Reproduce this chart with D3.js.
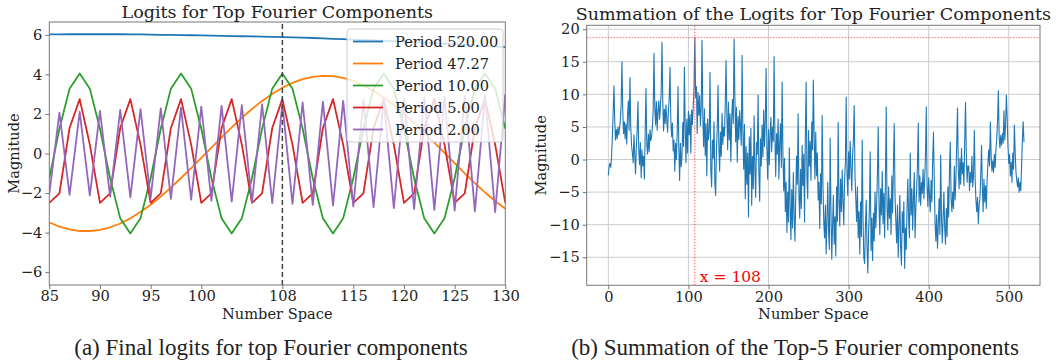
<!DOCTYPE html>
<html>
<head>
<meta charset="utf-8">
<script src="https://cdn.jsdelivr.net/npm/d3@7"></script>
<style>
body { margin: 0; background: #fff; }
text { font-family: "DejaVu Serif", serif; fill: #222; }
text.caption { font-family: "Liberation Serif", "Times New Roman", Times, "Nimbus Roman", serif; }
.domain { stroke: #777; }
.tick line { stroke: #777; }
</style>
</head>
<body>
<script>
var width = 1058,
	height = 362;

// ---- panel (a) data, one value per integer x from 85 to 130 ----
var numberSpace = d3.range(85, 131);
var leftTicks = [85, 90, 95, 100, 108, 115, 120, 125, 130];
var legendNames = ["Period 520.00", "Period 47.27", "Period 10.00", "Period 5.00", "Period 2.00"];
var colors = ["#1f77b4", "#ff7f0e", "#2ca02c", "#d62728", "#9467bd"];

var period520 = [6.02,6.02,6.03,6.03,6.03,6.03,6.03,6.03,6.02,6.02,6.01,6.00,6.00,5.99,5.98,5.97,5.96,5.95,5.94,5.93,
	5.92,5.91,5.90,5.89,5.87,5.86,5.84,5.82,5.80,5.78,5.76,5.74,5.72,5.70,5.68,5.66,5.63,5.61,5.58,5.56,
	5.53,5.50,5.47,5.44,5.41,5.38];
var period47 = [-3.49,-3.70,-3.84,-3.92,-3.92,-3.86,-3.73,-3.54,-3.28,-2.96,-2.59,-2.18,-1.72,-1.24,-0.74,-0.22,0.30,0.82,1.32,1.80,
	2.25,2.66,3.01,3.33,3.57,3.76,3.88,3.93,3.91,3.82,3.67,3.45,3.17,2.83,2.45,2.02,1.55,1.06,0.55,0.03,
	-0.49,-1.00,-1.50,-1.97,-2.40,-2.79];
var period10 = [-1.25,1.25,3.28,4.05,3.28,1.25,-1.25,-3.28,-4.05,-3.28,
	-1.25,1.25,3.28,4.05,3.28,1.25,-1.25,-3.28,-4.05,-3.28,
	-1.25,1.25,3.28,4.05,3.28,1.25,-1.25,-3.28,-4.05,-3.28,
	-1.25,1.25,3.28,4.05,3.28,1.25,-1.25,-3.28,-4.05,-3.28,
	-1.25,1.25,3.28,4.05,3.28,1.25];
var period5 = [-2.50,-2.02,1.29,2.75,0.45,-2.50,-2.02,1.29,2.75,0.45,-2.50,-2.02,1.29,2.75,0.45,
	-2.50,-2.02,1.29,2.75,0.45,-2.50,-2.02,1.29,2.75,0.45,-2.50,-2.02,1.29,2.75,0.45,
	-2.50,-2.02,1.29,2.75,0.45,-2.50,-2.02,1.29,2.75,0.45,-2.50,-2.02,1.29,2.75,0.45,-2.50];
var period2 = [-2.05,2.07,-2.09,2.11,-2.13,2.16,-2.18,2.20,-2.22,2.24,-2.26,2.28,-2.30,2.32,-2.34,2.37,
	-2.39,2.41,-2.43,2.45,-2.47,2.49,-2.51,2.53,-2.55,2.58,-2.60,2.62,-2.64,2.66,-2.68,2.70,
	-2.72,2.74,-2.76,2.79,-2.81,2.83,-2.85,2.87,-2.89,2.91,-2.93,2.95,-2.97,3.00];

// ---- panel (b) data, one value per number 0..519 ----
var summation = [
	-2.4,-1.0,-0.6,-1.2,0.2,3.5,7.0,11.3,6.0,3.0,
	4.6,3.2,5.0,3.8,4.9,6.0,8.5,15.0,7.5,4.0,
	5.8,3.2,5.5,2.4,6.8,9.0,4.5,12.6,5.0,2.2,
	1.0,-0.5,3.8,0.6,-2.2,2.0,4.5,8.9,1.5,-0.8,
	2.6,-2.8,1.5,-1.0,0.5,-3.0,4.0,10.9,2.3,0.8,
	3.9,1.2,4.6,2.9,3.5,5.0,7.4,16.3,8.1,5.3,
	8.9,4.5,7.3,9.0,6.2,8.0,10.2,18.0,9.0,4.4,
	7.7,5.5,8.4,6.1,4.2,7.6,9.3,14.1,6.3,3.5,
	5.6,1.3,3.0,-1.8,2.5,0.0,4.2,11.2,1.8,-3.2,
	2.5,-1.1,0.6,5.7,2.0,14.2,4.6,-0.5,6.2,1.0,
	7.4,3.8,6.9,1.0,7.6,5.4,8.2,11.0,18.7,9.5,
	11.2,4.0,10.3,6.8,9.8,5.2,8.0,18.3,6.5,2.0,
	7.8,0.6,5.5,-2.5,6.2,3.0,4.4,13.4,-1.6,-4.2,
	3.0,0.2,5.8,-3.5,-5.5,1.4,4.8,11.4,2.0,-1.8,
	4.2,0.5,7.1,2.3,5.0,3.6,8.4,15.2,6.9,1.5,
	8.8,3.0,7.0,-0.3,6.1,9.2,5.5,18.5,10.0,2.7,
	8.0,-0.4,6.6,3.1,7.5,5.0,2.2,16.0,4.5,-1.5,
	5.4,-6.0,2.0,-3.8,1.0,-8.8,3.5,-2.2,4.8,-7.0,
	0.5,-4.5,6.7,-1.3,-5.8,2.6,0.8,9.9,-2.0,-6.4,
	3.2,-1.0,5.3,0.4,7.6,2.0,5.8,14.0,1.6,-3.0,
	4.6,-0.8,3.8,6.5,1.2,5.0,2.8,15.8,3.4,-2.6,
	4.0,0.8,6.2,-3.0,2.5,5.5,-1.2,11.9,1.0,-4.8,
	0.2,-8.0,-3.5,-11.2,-5.0,-9.6,1.8,-7.2,-12.3,-4.6,
	-10.5,-2.0,-8.3,-12.5,-6.0,0.5,-3.8,7.0,-5.5,-9.0,
	-1.5,-7.5,2.2,-4.0,0.8,-9.6,3.6,11.9,-2.8,-6.0,
	4.5,-1.0,2.8,-3.2,5.8,1.5,12.2,3.5,-3.0,4.2,
	-2.5,1.0,-6.2,-3.5,-10.6,-2.2,-6.8,6.8,-4.0,-9.5,
	-12.0,-7.0,-14.5,-9.2,-3.5,-11.0,-13.8,3.3,-8.0,-15.3,
	-10.0,-5.5,-13.0,-8.8,-14.8,-4.2,-9.5,5.7,-6.5,-10.2,
	-3.0,-8.0,-1.6,-6.5,-10.0,-3.2,-0.5,9.6,-2.0,-5.5,
	1.2,-3.0,2.8,-1.5,-4.8,0.6,3.0,8.3,-2.5,-6.0,
	-9.5,-4.2,-12.0,-8.0,-14.5,-6.5,-11.8,3.0,-9.0,-15.0,
	-16.0,-10.5,-6.2,-13.2,-17.4,-11.0,-7.5,1.2,-14.0,-9.0,
	-15.5,-8.2,-12.5,-5.0,-10.5,-7.0,-2.5,5.0,-6.8,-11.5,
	-4.5,-8.5,-1.8,-9.8,-5.2,-12.0,-3.0,8.1,-7.5,-10.8,
	-4.2,-9.0,-6.0,-11.5,-2.5,-8.2,-0.8,5.5,-5.8,-9.5,
	-12.8,-7.0,-15.0,-10.2,-5.5,-13.5,-16.2,-8.0,-11.2,-6.5,
	-16.7,-10.5,-13.8,-7.2,-3.0,-9.5,-12.0,1.0,-8.5,-4.5,
	-10.8,-6.0,-2.0,-12.0,-7.5,-4.4,-1.0,5.6,-6.5,-2.5,
	-7.0,-3.5,-5.2,-1.5,-6.0,-3.0,0.5,8.1,-4.0,-7.2,
	-2.8,-5.5,-8.0,-3.2,-6.5,0.0,4.2,-3.5,-9.8,-12.5,
	-8.5,-13.6,-10.2,-6.0,-11.5,0.7,-8.8,-12.8,-9.0,-5.0,
	-10.5,-13.0,-7.5,-11.8,-4.2,-8.8,-1.5,2.7,-6.0,-8.0,
	-5.0,-7.5,-1.0,-6.2,-3.0,2.5,7.9,-1.5,-4.5,0.2,
	-3.8,1.7,-2.2,-0.5,-4.0,3.0,8.8,1.0,-3.5,-1.0,
	-1.0,-4.8,-2.0,-3.5,0.5,-4.2,-2.5,4.5,-3.0,-6.2,
	-8.0,-5.8,-9.8,-7.0,-6.0,-2.5,2.2,-4.0,-8.0,-3.0,
	-6.5,-4.0,-7.5,-3.0,-0.5,1.5,-1.0,5.8,0.5,-1.8,
	-0.2,-2.0,0.8,-1.2,1.5,3.2,6.0,10.6,3.5,1.8,
	3.7,2.2,4.0,2.5,7.5,3.0,5.2,9.9,6.5,2.0,
	-0.6,0.8,-2.5,-0.4,-3.5,1.0,-1.5,5.3,1.2,-2.0,
	-3.2,-4.2,-2.8,-5.0,-3.5,-4.8,-1.0,3.0,5.8,2.7
];
var peakX = 108;
var peakValue = 18.7;
var rightXTicks = [0, 100, 200, 300, 400, 500];
var rightYTicks = [-15, -10, -5, 0, 5, 10, 15, 20];
var leftYTicks = [-6, -4, -2, 0, 2, 4, 6];

var baseFont = "14.6px";

var svg = d3.select("body").append("svg")
	.attr("width", width)
	.attr("height", height);

// ================= panel (a) =================
var xL = d3.scaleLinear().domain([85, 130]).range([49.3, 505.3]);
var yL = d3.scaleLinear().domain([-6.65, 6.65]).range([285, 22]);

var gA = svg.append("g");

gA.append("clipPath").attr("id", "clipA")
	.append("rect")
	.attr("x", xL.range()[0]).attr("y", yL.range()[1])
	.attr("width", xL.range()[1] - xL.range()[0])
	.attr("height", yL.range()[0] - yL.range()[1]);

var series = [period520, period47, period10, period5, period2];

var lineA = d3.line()
	.x(function(d, i) { return xL(numberSpace[i]); })
	.y(function(d) { return yL(d); });

gA.append("g").attr("clip-path", "url(#clipA)")
	.selectAll("path")
	.data(series)
	.enter().append("path")
	.attr("d", lineA)
	.attr("fill", "none")
	.attr("stroke", function(d, i) { return colors[i]; })
	.attr("stroke-width", 1.8)
	.attr("stroke-linejoin", "round");

// dashed line at x = 108
gA.append("line")
	.attr("x1", xL(peakX)).attr("x2", xL(peakX))
	.attr("y1", yL.range()[0]).attr("y2", yL.range()[1])
	.attr("stroke", "#444")
	.attr("stroke-width", 1.5)
	.attr("stroke-dasharray", "5,3");

// frame
gA.append("rect")
	.attr("x", xL.range()[0]).attr("y", yL.range()[1])
	.attr("width", xL.range()[1] - xL.range()[0])
	.attr("height", yL.range()[0] - yL.range()[1])
	.attr("fill", "none").attr("stroke", "#777");

gA.append("g")
	.attr("transform", "translate(0," + yL.range()[0] + ")")
	.call(d3.axisBottom(xL).tickValues(leftTicks).tickSize(4).tickPadding(2).tickFormat(d3.format("d")))
	.call(function(g) { g.select(".domain").remove(); })
	.selectAll("text").style("font-size", baseFont).style("font-family", "DejaVu Serif");

gA.append("g")
	.attr("transform", "translate(" + xL.range()[0] + ",0)")
	.call(d3.axisLeft(yL).tickValues(leftYTicks).tickSize(4).tickPadding(3))
	.call(function(g) { g.select(".domain").remove(); })
	.selectAll("text").style("font-size", baseFont).style("font-family", "DejaVu Serif");

gA.append("text")
	.attr("x", (xL.range()[0] + xL.range()[1]) / 2).attr("y", 18)
	.attr("text-anchor", "middle")
	.style("font-size", "17.5px")
	.text("Logits for Top Fourier Components");

gA.append("text")
	.attr("x", (xL.range()[0] + xL.range()[1]) / 2).attr("y", 319)
	.attr("text-anchor", "middle")
	.style("font-size", baseFont)
	.text("Number Space");

gA.append("text")
	.attr("transform", "translate(19," + (yL.range()[0] + yL.range()[1]) / 2 + ")rotate(-90)")
	.attr("text-anchor", "middle")
	.style("font-size", baseFont)
	.text("Magnitude");

// legend
var legend = gA.append("g").attr("transform", "translate(347,29)");
legend.append("rect")
	.attr("width", 156).attr("height", 113)
	.attr("rx", 3)
	.attr("fill", "#fff").attr("fill-opacity", 0.8)
	.attr("stroke", "#ccc");
var items = legend.selectAll(".item")
	.data(legendNames)
	.enter().append("g")
	.attr("class", "item")
	.attr("transform", function(d, i) { return "translate(0," + (12.5 + i * 22) + ")"; });
items.append("line")
	.attr("x1", 6).attr("x2", 36)
	.attr("stroke", function(d, i) { return colors[i]; })
	.attr("stroke-width", 1.8);
items.append("text")
	.attr("x", 48).attr("y", 5)
	.style("font-size", baseFont)
	.text(function(d) { return d; });

// ================= panel (b) =================
var xR = d3.scaleLinear().domain([-27, 539]).range([586.7, 1040]);
var yR = d3.scaleLinear().domain([-19.3, 20.6]).range([285.3, 25.3]);

var gB = svg.append("g");

// grid
gB.append("g").selectAll("line")
	.data(rightXTicks)
	.enter().append("line")
	.attr("x1", function(d) { return xR(d); }).attr("x2", function(d) { return xR(d); })
	.attr("y1", yR.range()[0]).attr("y2", yR.range()[1])
	.attr("stroke", "#cccccc").attr("stroke-width", 1);
gB.append("g").selectAll("line")
	.data(rightYTicks)
	.enter().append("line")
	.attr("y1", function(d) { return yR(d); }).attr("y2", function(d) { return yR(d); })
	.attr("x1", xR.range()[0]).attr("x2", xR.range()[1])
	.attr("stroke", "#cccccc").attr("stroke-width", 1);

var lineB = d3.line()
	.x(function(d, i) { return xR(i); })
	.y(function(d) { return yR(d); });

gB.append("path")
	.datum(summation)
	.attr("d", lineB)
	.attr("fill", "none")
	.attr("stroke", "#1f77b4")
	.attr("stroke-width", 1.1)
	.attr("stroke-linejoin", "round");

// red markers of the maximum
gB.append("line")
	.attr("x1", xR(peakX)).attr("x2", xR(peakX))
	.attr("y1", yR.range()[0]).attr("y2", yR.range()[1])
	.attr("stroke", "#ff3030").attr("stroke-width", 1)
	.attr("stroke-dasharray", "1.5,1.5").attr("stroke-opacity", 0.8);
gB.append("line")
	.attr("x1", xR.range()[0]).attr("x2", xR.range()[1])
	.attr("y1", yR(peakValue)).attr("y2", yR(peakValue))
	.attr("stroke", "#ff3030").attr("stroke-width", 1)
	.attr("stroke-dasharray", "1.5,1.5").attr("stroke-opacity", 0.7);

gB.append("text")
	.attr("x", xR(peakX) + 5).attr("y", 282)
	.style("font-size", "15.5px")
	.style("fill", "#ff0000")
	.text("x = " + peakX);

gB.append("rect")
	.attr("x", xR.range()[0]).attr("y", yR.range()[1])
	.attr("width", xR.range()[1] - xR.range()[0])
	.attr("height", yR.range()[0] - yR.range()[1])
	.attr("fill", "none").attr("stroke", "#777");

gB.append("g")
	.attr("transform", "translate(0," + yR.range()[0] + ")")
	.call(d3.axisBottom(xR).tickValues(rightXTicks).tickSize(4).tickPadding(2))
	.call(function(g) { g.select(".domain").remove(); })
	.selectAll("text").style("font-size", baseFont).style("font-family", "DejaVu Serif");

gB.append("g")
	.attr("transform", "translate(" + xR.range()[0] + ",0)")
	.call(d3.axisLeft(yR).tickValues(rightYTicks).tickSize(4).tickPadding(3))
	.call(function(g) { g.select(".domain").remove(); })
	.selectAll("text").style("font-size", baseFont).style("font-family", "DejaVu Serif");

gB.append("text")
	.attr("x", (xR.range()[0] + xR.range()[1]) / 2).attr("y", 20)
	.attr("text-anchor", "middle")
	.style("font-size", "17.5px")
	.text("Summation of the Logits for Top Fourier Components");

gB.append("text")
	.attr("x", (xR.range()[0] + xR.range()[1]) / 2).attr("y", 319)
	.attr("text-anchor", "middle")
	.style("font-size", baseFont)
	.text("Number Space");

gB.append("text")
	.attr("transform", "translate(546," + (yR.range()[0] + yR.range()[1]) / 2 + ")rotate(-90)")
	.attr("text-anchor", "middle")
	.style("font-size", baseFont)
	.text("Magnitude");

// captions
svg.append("text").attr("class", "caption")
	.attr("x", 271).attr("y", 355)
	.attr("text-anchor", "middle")
	.style("font-size", "23px")
	.text("(a) Final logits for top Fourier components");
svg.append("text").attr("class", "caption")
	.attr("x", 795).attr("y", 355)
	.attr("text-anchor", "middle")
	.style("font-size", "23px")
	.text("(b) Summation of the Top-5 Fourier components");
</script>
</body>
</html>
